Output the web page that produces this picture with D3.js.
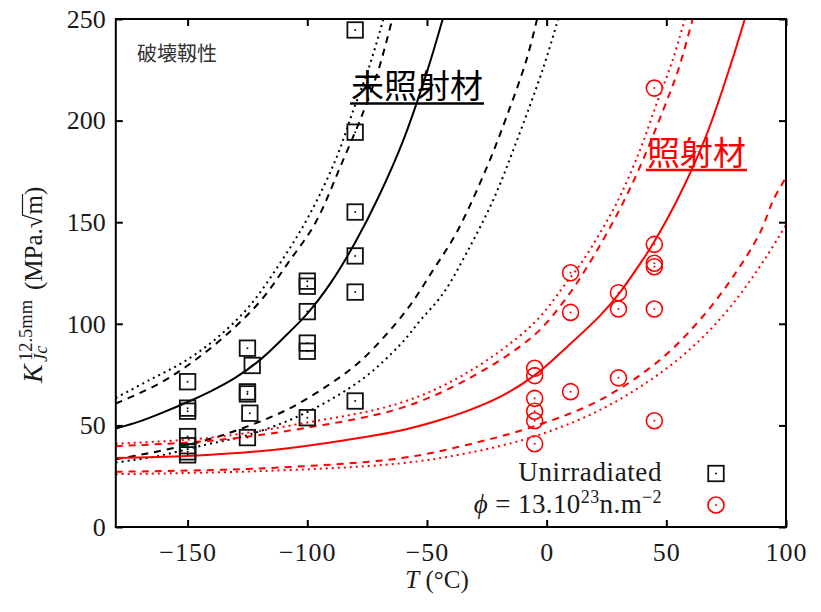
<!DOCTYPE html>
<html><head><meta charset="utf-8">
<script src="https://cdn.jsdelivr.net/npm/d3@7"></script>
<style>body{margin:0;background:#fff}svg{display:block}
.serif{font-family:"Liberation Serif","DejaVu Serif",serif}
.cjk{font-family:"Noto Sans CJK JP","Noto Sans CJK SC",sans-serif}
</style>
</head><body><svg id="c" width="821" height="612"></svg>
<script>
// ---- data ----
const xTicks = [-150, -100, -50, 0, 50, 100];
const yTicks = [0, 50, 100, 150, 200, 250];

// Unirradiated specimens (T °C, K MPa.sqrt(m))
const unirrT = [-150,-150,-150,-150,-150,-150,-150, -125,-123,-125,-125,-124,-125, -100,-100,-100,-100,-100,-100, -80,-80,-80,-80,-80,-80];
const unirrK = [71.5,58.5,57,44.5,40,37,35.5, 88,79.5,66.5,65.5,56,44, 121,118.5,106,90.5,86.5,53.8, 244.6,194.3,155,133.4,115.6,62];

// Irradiated specimens
const irrT = [-5,-5,-5,-5,-5,-5, 10,10,10, 30,30,30, 45,45,45,45,45,45];
const irrK = [78.1,74.5,63.3,57,52.3,41, 125.1,105.6,66.6, 115.3,107.3,73.4, 216,139.1,129.8,128.1,107.3,52.3];

// Curves: [T, K]
const unirrMedian = [[-180,48.5],[-170,52],[-160,56.5],[-150,61.5],[-140,67],[-130,73.5],[-120,82],[-110,93],[-100,105],[-90,120.5],[-80,140],[-70,163],[-60,190],[-50,224],[-43.4,250]];
const unirrUpperDash = [[-180,60.8],[-162,70.5],[-147,82],[-131.5,97],[-119,112],[-108,130],[-96.7,149.5],[-85.6,179],[-76,206],[-70,226],[-64.5,250]];
const unirrUpperDot = [[-180,63.5],[-166,72.3],[-152,81],[-138.3,92.5],[-124.4,108.4],[-110.5,131.4],[-99.4,153],[-88.2,180.6],[-80.8,205],[-74,227],[-68.2,250]];
const unirrLowerDash = [[-180,33.3],[-170,35.5],[-160,37.8],[-143,42.5],[-125,49.5],[-108,58],[-91,70],[-77,82.5],[-58.5,106.8],[-47.4,126.5],[-37.6,145],[-25,177],[-16.7,202],[-8.4,230],[-4,250]];
const unirrLowerDot = [[-180,31.8],[-163.6,34.6],[-142.8,40.4],[-124.7,45.3],[-101,56],[-77.3,72.5],[-61.3,89.6],[-52.9,101.5],[-43.2,115],[-33.4,135],[-22.3,161],[-12.5,190],[-1.4,226],[4.8,250]];

const irrMedian = [[-180,34],[-150,35],[-120,37.3],[-97,40.5],[-61,47.5],[-45,52.5],[-33.4,57],[-19.5,64],[-5.2,74.5],[8.4,88.5],[22.3,104],[30,114.5],[39,129.5],[45,140.5],[55,162],[66.8,193],[77.3,229],[82.8,250]];
const irrUpperDash = [[-180,39.8],[-140,42.5],[-102,48.5],[-61.3,58.4],[-33.4,72.5],[-5.6,94],[8.4,113],[19.5,133],[30.6,156.5],[39,177.3],[48.7,205.2],[55,225],[61,250]];
const irrUpperDot = [[-180,41],[-140,44],[-102,51],[-61.3,61],[-33.4,75.8],[-5.6,100],[8.4,120.5],[15.3,131.4],[29.2,159.3],[39,185.5],[46,208.5],[52.2,228.2],[57.8,250]];
const irrLowerDash = [[-180,27.2],[-120,28.8],[-61.3,33.8],[-33.4,40.4],[-5.6,49.4],[22.3,62.5],[47.3,82.2],[64,101.9],[77.9,123.2],[89,144.5],[94.7,160.9],[100,172]];
const irrLowerDot = [[-180,26],[-120,27.5],[-61.3,31.3],[-33.4,36.3],[-5.6,44.4],[22.3,57.6],[47.3,75.6],[64,92],[77.9,110],[91.8,133],[100,148.7]];

// ---- drawing ----
const svg = d3.select("#c");
svg.append("rect").attr("width",821).attr("height",612).attr("fill","#fff");
const L = 115.8, R = 786, T = 19, B = 527;
const x = d3.scaleLinear().domain([-180,100]).range([L,R]);
const y = d3.scaleLinear().domain([0,250]).range([B,T]);
const ink = "#1a1a1a";

svg.append("defs").append("clipPath").attr("id","clip")
  .append("rect").attr("x",L).attr("y",T).attr("width",R-L).attr("height",B-T);

const line = d3.line().x(d=>x(d[0])).y(d=>y(d[1])).curve(d3.curveCatmullRom.alpha(0.5));
const curves = svg.append("g").attr("clip-path","url(#clip)").attr("fill","none").attr("stroke-width",2);
const dash = "7,6", dot = "2,4";
[[unirrMedian,"#000",null],[unirrUpperDash,"#000",dash],[unirrUpperDot,"#000",dot],
 [unirrLowerDash,"#000",dash],[unirrLowerDot,"#000",dot],
 [irrMedian,"#ff0000",null],[irrUpperDash,"#ff0000",dash],[irrUpperDot,"#ff0000",dot],
 [irrLowerDash,"#ff0000",dash],[irrLowerDot,"#ff0000",dot]].forEach(([d,c,da])=>{
  const p = curves.append("path").attr("d",line(d)).attr("stroke",c);
  if(da) p.attr("stroke-dasharray",da);
});

// axes (ticks inward on all sides)
function styleAxis(g){
  g.attr("font-family",null).attr("font-size",null);
  g.select(".domain").remove();
  g.selectAll(".tick line").attr("stroke","#000").attr("stroke-width",2);
  g.selectAll(".tick text").attr("class","serif").style("font-size","26px").attr("fill",ink);
}
svg.append("g").attr("transform",`translate(0,${B})`)
  .call(d3.axisBottom(x).tickValues(xTicks).tickSizeInner(-7).tickSizeOuter(0).tickPadding(15.5)).call(styleAxis)
  .selectAll(".tick text").style("letter-spacing","1px");
svg.append("g").attr("transform",`translate(0,${T})`)
  .call(d3.axisTop(x).tickValues(xTicks).tickSizeInner(-7).tickSizeOuter(0).tickFormat("")).call(styleAxis);
svg.append("g").attr("transform",`translate(${L},0)`)
  .call(d3.axisLeft(y).tickValues(yTicks).tickSizeInner(-7).tickSizeOuter(0).tickPadding(10)).call(styleAxis);
svg.append("g").attr("transform",`translate(${R},0)`)
  .call(d3.axisRight(y).tickValues(yTicks).tickSizeInner(-7).tickSizeOuter(0).tickFormat("")).call(styleAxis);
svg.append("rect").attr("x",L).attr("y",T).attr("width",R-L).attr("height",B-T)
  .attr("fill","none").attr("stroke","#000").attr("stroke-width",2);

// markers
const sq = 15.5, cr = 8;
function square(g, cx, cy){
  g.append("rect").attr("x",cx-sq/2).attr("y",cy-sq/2).attr("width",sq).attr("height",sq)
    .attr("fill","none").attr("stroke","#111").attr("stroke-width",1.8);
  g.append("circle").attr("cx",cx).attr("cy",cy).attr("r",1).attr("fill","#111");
}
function circ(g, cx, cy){
  g.append("circle").attr("cx",cx).attr("cy",cy).attr("r",cr)
    .attr("fill","none").attr("stroke","#ff0000").attr("stroke-width",1.6);
  g.append("circle").attr("cx",cx).attr("cy",cy).attr("r",1).attr("fill","#ff0000");
}
const mk = svg.append("g");
unirrT.forEach((t,i)=>square(mk, x(t), y(unirrK[i])));
irrT.forEach((t,i)=>circ(mk, x(t), y(irrK[i])));

// axis labels
svg.append("text").attr("class","serif").attr("x",437).attr("y",588).attr("text-anchor","middle")
  .style("font-size","25px").attr("fill",ink)
  .call(t=>{ t.append("tspan").style("font-style","italic").text("T");
             t.append("tspan").text(" (°C)"); });

const yl = svg.append("g").attr("transform","translate(42,383) rotate(-90)").attr("fill",ink);
yl.append("text").attr("class","serif").attr("x",0).attr("y",0).style("font-size","28px").style("font-style","italic").text("K");
yl.append("text").attr("class","serif").attr("x",22).attr("y",-10).style("font-size","18.5px").text("12.5mm");
yl.append("text").attr("class","serif").attr("x",21).attr("y",5).style("font-size","18.5px").style("font-style","italic").text("Jc");
const unit = yl.append("text").attr("class","serif").attr("x",93).attr("y",0).style("font-size","25px").text("(MPa.√m)");
{
  const n = unit.node();
  const e = n.getEndPositionOfChar(6).x;
  const sqe = n.getEndPositionOfChar(5).x;
  yl.append("line").attr("x1",sqe-1).attr("x2",e+1).attr("y1",-19.5).attr("y2",-19.5)
    .attr("stroke",ink).attr("stroke-width",1.2);
}

// legend
const lg = svg.append("g").attr("fill",ink).attr("text-anchor","end");
lg.append("text").attr("class","serif").style("font-size","27px").style("letter-spacing","0.6px")
  .attr("x",662).attr("y",481).text("Unirradiated");
lg.append("text").attr("class","serif").style("font-size","27px").style("letter-spacing","0.4px")
  .attr("x",662).attr("y",513).call(t=>{
  t.append("tspan").style("font-style","italic").text("ϕ");
  t.append("tspan").text(" = 13.10");
  t.append("tspan").style("font-size","18px").attr("dy",-10).text("23");
  t.append("tspan").attr("dy",10).text("n.m");
  t.append("tspan").style("font-size","18px").attr("dy",-10).text("−2");
});
square(lg, 716, 473.5);
circ(lg, 716, 505);

// annotations
svg.append("text").attr("class","cjk").attr("x",137).attr("y",61).style("font-size","20px")
  .attr("fill","#333").text("破壊靱性");
function ul(tx, ty, str, col){
  const t = svg.append("text").attr("class","cjk").attr("x",tx).attr("y",ty).style("font-size","33px")
    .style("font-weight","400").attr("fill",col).text(str);
  const w = t.node().getComputedTextLength();
  svg.append("line").attr("x1",tx-1).attr("x2",tx+w+1).attr("y1",ty+5.5).attr("y2",ty+5.5)
    .attr("stroke",col).attr("stroke-width",2.5);
}
ul(351, 98, "未照射材", "#000");
ul(647, 164.5, "照射材", "#ff0000");
</script></body></html>
